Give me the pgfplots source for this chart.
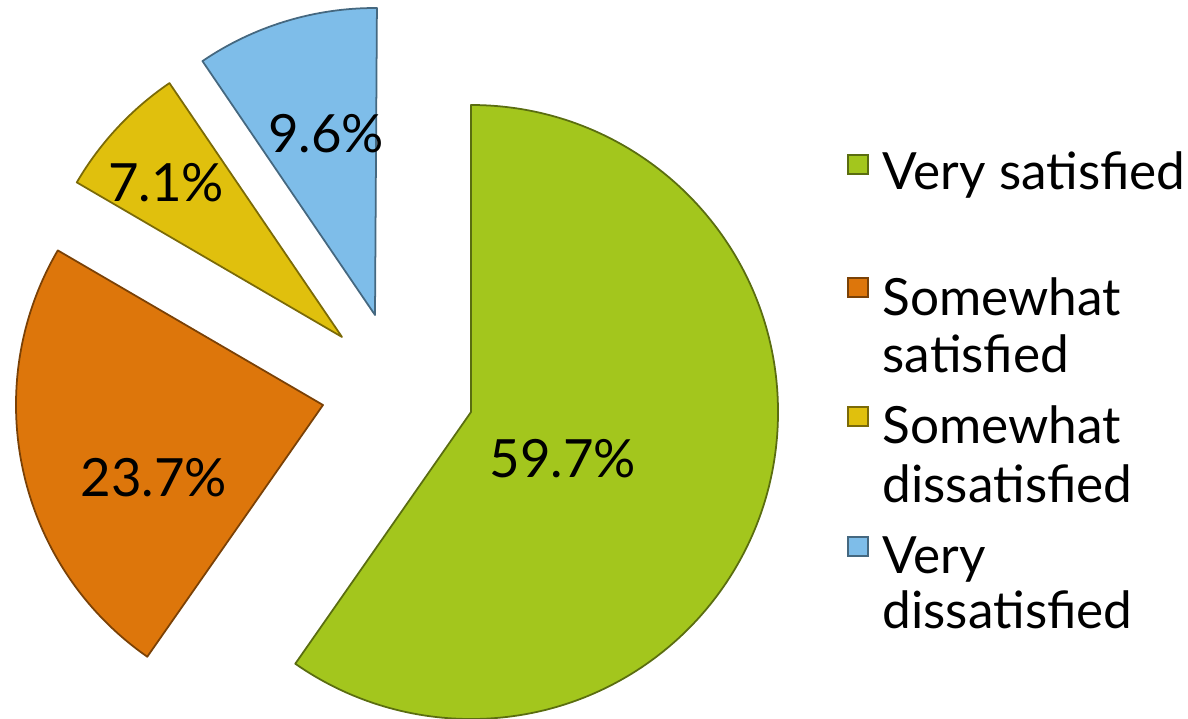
\documentclass[border=0pt]{standalone}
\usepackage{pgfplots}
\pgfplotsset{compat=1.18}
\usepackage{pgfplotstable}
\usepackage{fontspec}
\setmainfont{Lato}

% slice colours (clockwise from 12 o'clock)
\definecolor{pie0}{HTML}{A3C61D}
\definecolor{pie1}{HTML}{DD760B}
\definecolor{pie2}{HTML}{E0C00D}
\definecolor{pie3}{HTML}{7EBDE9}
\colorlet{pie0d}{pie0!55!black}
\colorlet{pie1d}{pie1!55!black}
\colorlet{pie2d}{pie2!55!black}
\colorlet{pie3d}{pie3!55!black}

% share in percent, slice apex (cx,cy) and label centre (lx,ly), in px of the 1188x718 frame
\pgfplotstableread{
pct  cx  cy  lx  ly
59.7 471 306 563 259
23.7 323 313 154 240
7.1  342 381 166 535
9.6  375 403 326 584
}\piedata

\begin{document}
\begin{tikzpicture}
  % start/end angles from the shares, clockwise from 12 o'clock
  \def\cumA{90}
  \pgfplotsforeachungrouped \i in {0,1,2,3}{
    \pgfplotstablegetelem{\i}{pct}\of\piedata
    \expandafter\xdef\csname pct\i\endcsname{\pgfplotsretval}
    \pgfmathsetmacro\endA{\cumA-3.6*\pgfplotsretval}
    \expandafter\xdef\csname sA\i\endcsname{\cumA}
    \expandafter\xdef\csname eA\i\endcsname{\endA}
    \global\let\cumA\endA
    \pgfplotstablegetelem{\i}{cx}\of\piedata
    \expandafter\xdef\csname cx\i\endcsname{\pgfplotsretval}
    \pgfplotstablegetelem{\i}{cy}\of\piedata
    \expandafter\xdef\csname cy\i\endcsname{\pgfplotsretval}
    \pgfplotstablegetelem{\i}{lx}\of\piedata
    \expandafter\xdef\csname lx\i\endcsname{\pgfplotsretval}
    \pgfplotstablegetelem{\i}{ly}\of\piedata
    \expandafter\xdef\csname ly\i\endcsname{\pgfplotsretval}
  }
  \def\R{30.7mm}
  \begin{axis}[
    width=11.88cm, height=7.18cm, scale only axis,
    xmin=0, xmax=1188, ymin=0, ymax=718,
    hide axis, clip=false,
  ]
    % frame sets the picture size; the arcs' control points must not widen it
    \path (axis cs:0,0) rectangle (axis cs:1188,718);
    \pgfplotsinvokeforeach{0,1,2,3}{
      \filldraw[overlay, fill=pie#1, draw=pie#1d, line width=0.5pt, line join=round]
        (axis cs:\csname cx#1\endcsname,\csname cy#1\endcsname)
        -- ++(\csname sA#1\endcsname:\R)
        arc[start angle=\csname sA#1\endcsname, end angle=\csname eA#1\endcsname, radius=\R]
        -- cycle;
      \node[font=\fontsize{15}{18}\selectfont, inner sep=0pt]
        at (axis cs:\csname lx#1\endcsname,\csname ly#1\endcsname) {\csname pct#1\endcsname\%};
    }
    % legend
    \begin{scope}[every node/.style={overlay, anchor=base west, inner sep=0pt, font=\fontsize{14.6}{17}\selectfont}]
      \filldraw[fill=pie0, draw=pie0d] (axis cs:848,544) rectangle (axis cs:868,563);
      \node at (axis cs:882,528) {Very satisfied};
      \filldraw[fill=pie1, draw=pie1d] (axis cs:848,421) rectangle (axis cs:868,440);
      \node at (axis cs:882,403) {Somewhat};
      \node at (axis cs:882,346) {satisfied};
      \filldraw[fill=pie2, draw=pie2d] (axis cs:848,292) rectangle (axis cs:868,311);
      \node at (axis cs:882,275) {Somewhat};
      \node at (axis cs:882,216) {dissatisfied};
      \filldraw[fill=pie3, draw=pie3d] (axis cs:848,162) rectangle (axis cs:868,181);
      \node at (axis cs:882,145) {Very};
      \node at (axis cs:882,90) {dissatisfied};
    \end{scope}
  \end{axis}
\end{tikzpicture}
\end{document}
